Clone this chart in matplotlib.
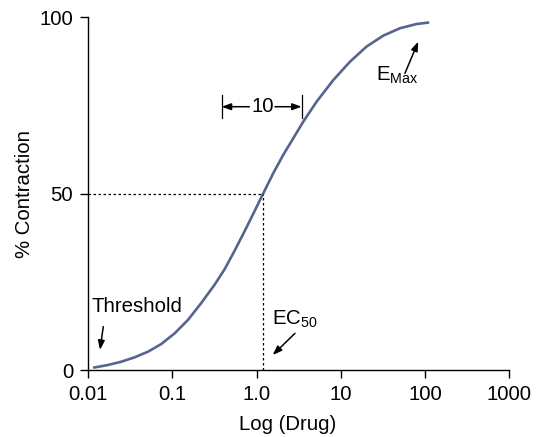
import matplotlib
matplotlib.use("Agg")
import matplotlib.pyplot as plt

# curve (drug concentration, % contraction)
drug = [0.0117, 0.01714, 0.02466, 0.03556, 0.05117, 0.07362, 0.1062,
        0.1528, 0.2198, 0.3168, 0.4169, 0.5272, 0.6934, 0.912, 1.198, 1.575,
        2.07, 2.721, 3.576, 5.16, 8.13, 12.82, 20.2, 31.9, 50.4, 79.4, 109.1]
contraction = [0.7, 1.42, 2.35, 3.6, 5.19, 7.37, 10.4, 14.2, 19.0, 24.2,
               28.6, 33.1, 38.6, 44.3, 50.1, 55.8, 61.0, 65.7, 70.4, 76.1,
               82.2, 87.4, 91.7, 94.8, 96.9, 98.1, 98.5]

ec50 = 1.2
xticks = [0.01, 0.1, 1.0, 10, 100, 1000]
xticklabels = ['0.01', '0.1', '1.0', '10', '100', '1000']
yticks = [0, 50, 100]

plt.rcParams['font.family'] = ['Liberation Sans', 'DejaVu Sans']
plt.rcParams['mathtext.fontset'] = 'custom'
plt.rcParams['mathtext.rm'] = 'Liberation Sans'

fs = 14.7

fig = plt.figure(figsize=(5.4, 4.37), dpi=100)
ax = fig.add_axes([0.1635, 0.1533, 0.7795, 0.8071])

ax.plot(drug, contraction, '-', color='#56648f', lw=1.9,
        solid_capstyle='round', solid_joinstyle='round')

# dotted guide lines to the EC50
ax.plot([0.01, ec50], [50, 50], color='black', lw=0.9, ls=(0, (2, 2)))
ax.plot([ec50, ec50], [0, 50], color='black', lw=0.9, ls=(0, (2, 2)))

ax.set_xscale('log')
ax.set_xlim(0.01, 1000)
ax.set_ylim(0, 100)
ax.set_xticks(xticks)
ax.set_xticklabels(xticklabels)
ax.minorticks_off()
ax.set_yticks(yticks)
ax.tick_params(labelsize=fs, length=6, width=1, direction='out', pad=5)
ax.spines['top'].set_visible(False)
ax.spines['right'].set_visible(False)
ax.spines['left'].set_linewidth(1)
ax.spines['bottom'].set_linewidth(1)
ax.set_xlabel('Log (Drug)', fontsize=fs, labelpad=8, x=0.474)
ax.set_ylabel('% Contraction', fontsize=fs, labelpad=4)

arr = dict(arrowstyle='-|>,head_length=0.55,head_width=0.2', color='black',
           lw=1.1, shrinkA=0, shrinkB=0)

ax.text(0.011, 16.4, 'Threshold', fontsize=fs, ha='left', va='baseline')
ax.annotate('', xy=(0.01377, 5.7), xytext=(0.01507, 12.3), arrowprops=arr)

ax.text(1.51, 12.8, r'EC$_{50}$', fontsize=fs, ha='left', va='baseline')
ax.annotate('', xy=(1.55, 4.25), xytext=(2.85, 10.4), arrowprops=arr)

ax.text(26.1, 82.0, r'E$_{\mathrm{Max}}$', fontsize=fs, ha='left', va='baseline')
ax.annotate('', xy=(83.0, 93.1), xytext=(57.7, 84.1), arrowprops=arr)

# the "10" fold bracket
ax.plot([0.384, 0.384], [71.4, 78.0], color='black', lw=0.9)
ax.plot([3.42, 3.42], [71.4, 78.0], color='black', lw=0.9)
ax.text(1.166, 74.65, '10', fontsize=fs, ha='center', va='center')
ax.annotate('', xy=(0.384, 74.65), xytext=(0.817, 74.65), arrowprops=arr)
ax.annotate('', xy=(3.42, 74.65), xytext=(1.65, 74.65), arrowprops=arr)

fig.savefig('out.png', dpi=100)
